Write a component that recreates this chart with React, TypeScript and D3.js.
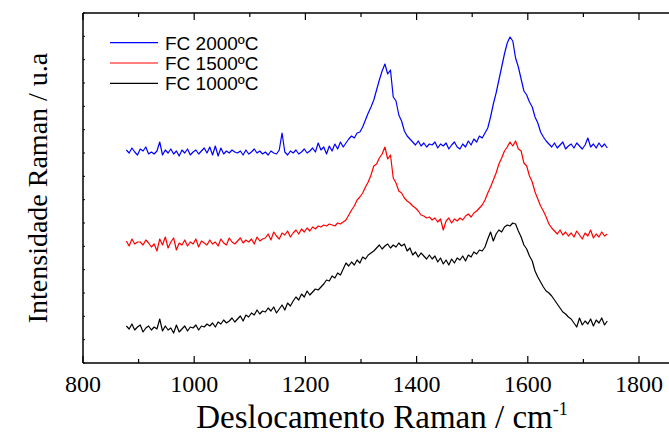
import * as d3 from 'd3';

// Raman shift grid (cm-1) of the measured spectra
const shiftStart = 878;
const shiftStep = 5;

// intensities (a.u., already offset for stacking)
const fc2000 = [
  213, 210, 215, 211, 208, 214, 212, 216, 209, 211,
  209, 212, 221, 208, 213, 210, 214, 209, 212, 207,
  213, 210, 214, 208, 211, 213, 209, 212, 215, 210,
  216, 208, 217, 207, 215, 209, 212, 210, 213, 211,
  210, 212, 208, 213, 209, 211, 214, 210, 212, 209,
  211, 208, 212, 210, 209, 213, 230, 211, 208, 212,
  210, 213, 209, 211, 214, 210, 212, 215, 211, 220,
  213, 216, 209, 217, 212, 219, 214, 221, 216, 220,
  224, 227, 225, 230, 231, 236, 243, 250, 256, 263,
  273, 283, 292, 299, 289, 293, 266, 262, 248, 242,
  232, 227, 224, 221, 218, 222, 217, 220, 216, 219,
  218, 221, 215, 219, 217, 220, 214, 218, 221, 216,
  214, 219, 216, 222, 218, 224, 221, 227, 225, 230,
  235, 246, 259, 270, 283, 296, 309, 320, 326, 322,
  305, 296, 284, 272, 268, 261, 256, 246, 240, 231,
  226, 222, 219, 216, 220, 215, 218, 221, 214, 217,
  219, 215, 220, 217, 214, 218, 225, 216, 219, 215,
  220, 216, 219, 215,
];

const fc1500 = [
  122, 117, 124, 119, 121, 121, 118, 123, 120, 116,
  119, 112, 124, 118, 126, 115, 121, 125, 113, 120,
  118, 123, 117, 121, 119, 124, 116, 122, 120, 118,
  123, 119, 121, 117, 124, 120, 118, 125, 121, 119,
  122, 125, 120, 123, 121, 124, 119, 126, 122, 124,
  125, 129, 123, 131, 127, 124, 130, 128, 132, 126,
  130, 133, 129, 134, 131, 135, 132, 136, 134, 137,
  136, 138, 137, 139, 138, 137, 140, 139, 141, 143,
  148, 153, 157, 163, 166, 170, 176, 181, 188, 197,
  199, 205, 209, 216, 204, 208, 185, 180, 172, 170,
  165, 162, 160, 157, 155, 152, 148, 147, 145, 146,
  143, 145, 141, 144, 133, 142, 145, 140, 144, 142,
  145, 143, 147, 149, 146, 150, 152, 155, 158, 163,
  170, 176, 183, 190, 199, 205, 212, 216, 221, 217,
  222, 214, 212, 200, 197, 187, 181, 171, 164, 157,
  152, 146, 139, 135, 132, 129, 133, 128, 131, 127,
  130, 126, 132, 128, 124, 130, 127, 133, 125, 129,
  126, 131, 127, 129,
];

const fc1000 = [
  37, 34, 39, 33, 36, 38, 31, 35, 37, 33,
  36, 34, 44, 32, 37, 33, 35, 30, 38, 31,
  34, 37, 32, 36, 35, 38, 33, 37, 36, 39,
  37, 40, 36, 41, 39, 43, 40, 42, 45, 41,
  44, 47, 42, 48, 46, 50, 48, 53, 49, 52,
  51, 55, 52, 56, 50, 54, 58, 53, 60, 57,
  62, 66, 63, 69, 66, 72, 68, 71, 74, 73,
  76, 79, 83, 82, 87, 85, 90, 88, 94, 100,
  97, 101, 98, 103, 100, 106, 104, 108, 110, 112,
  115, 118, 114, 117, 119, 115, 118, 116, 120, 117,
  119, 112, 115, 108, 111, 106, 110, 107, 104, 108,
  104, 107, 101, 105, 99, 103, 98, 104, 100, 105,
  103, 107, 102, 108, 106, 111, 109, 113, 112, 116,
  124, 131, 122, 129, 133, 131, 136, 138, 137, 140,
  139, 132, 126, 118, 114, 107, 102, 92, 86, 81,
  76, 72, 70, 67, 63, 59, 55, 51, 49, 46,
  44, 40, 36, 45, 38, 42, 39, 44, 37, 43,
  40, 45, 38, 42,
];

const seriesNames = ['FC 2000ºC', 'FC 1500ºC', 'FC 1000ºC'];
const seriesColors = ['#0000ff', '#ff0000', '#000000'];
const seriesValues = [fc2000, fc1500, fc1000];

const xMajorTicks = [800, 1000, 1200, 1400, 1600, 1800];
const xMinorTicks = [900, 1100, 1300, 1500, 1700, 1900];
const yTickCount = 15;

export default function App() {
  const width = 669;
  const height = 436;
  const left = 83;
  const top = 13;
  const bottom = 363;
  const right = left + 5.5 * 111.2;

  const x = d3.scaleLinear().domain([800, 1900]).range([left, right]);
  const y = d3.scaleLinear().domain([0, 350]).range([bottom, top]);
  const yTicks = d3.range(0, yTickCount + 1).map(i => (350 / yTickCount) * i);

  const shifts = fc2000.map((_, i) => shiftStart + i * shiftStep);
  const line = d3.line<number>()
    .x((_, i) => x(shifts[i]))
    .y(d => y(d));

  const serif = '"Liberation Serif", "Times New Roman", serif';
  const sans = '"Liberation Sans", Arial, sans-serif';

  return (
    <svg
      width={width}
      height={height}
      style={{ position: 'absolute', left: 0, top: 0, background: '#fff' }}
    >
      {/* series */}
      {seriesValues.map((vals, k) => (
        <path
          key={k}
          d={line(vals) || ''}
          fill="none"
          stroke={seriesColors[k]}
          strokeWidth={1.2}
          strokeLinejoin="round"
        />
      ))}

      {/* frame */}
      <line x1={left} x2={right} y1={top} y2={top} stroke="#000" strokeWidth={1.5} />
      <line x1={left} x2={right} y1={bottom} y2={bottom} stroke="#000" strokeWidth={1.5} />
      <line x1={left} x2={left} y1={top} y2={bottom} stroke="#000" strokeWidth={1.5} />

      {/* x ticks, inward on bottom and top */}
      {xMajorTicks.map(t => (
        <g key={`M${t}`}>
          <line x1={x(t)} x2={x(t)} y1={bottom} y2={bottom - 7} stroke="#000" strokeWidth={1.2} />
          <line x1={x(t)} x2={x(t)} y1={top} y2={top + 7} stroke="#000" strokeWidth={1.2} />
          <text
            x={x(t)}
            y={392}
            textAnchor="middle"
            fontFamily={serif}
            fontSize={24}
            fill="#000"
          >
            {t}
          </text>
        </g>
      ))}
      {xMinorTicks.map(t => (
        <g key={`m${t}`}>
          <line x1={x(t)} x2={x(t)} y1={bottom} y2={bottom - 4} stroke="#000" strokeWidth={1.2} />
          <line x1={x(t)} x2={x(t)} y1={top} y2={top + 4} stroke="#000" strokeWidth={1.2} />
        </g>
      ))}

      {/* y ticks (no labels) */}
      {yTicks.map(t => (
        <line key={`y${t}`} x1={left} x2={left + 2} y1={y(t)} y2={y(t)} stroke="#000" strokeWidth={1} />
      ))}

      {/* axis titles */}
      <text x={382} y={428} textAnchor="middle" fontFamily={serif} fontSize={33} fill="#000">
        Deslocamento Raman / cm<tspan dy={-13} fontSize={18}>-1</tspan>
      </text>
      <text
        transform={`translate(47,188) rotate(-90)`}
        textAnchor="middle"
        fontFamily={serif}
        fontSize={28}
        fill="#000"
      >
        Intensidade Raman / u.a
      </text>

      {/* legend */}
      {seriesNames.map((name, k) => {
        const cy = 42.7 + k * 20.3;
        return (
          <g key={name}>
            <line x1={110} x2={158} y1={cy} y2={cy} stroke={seriesColors[k]} strokeWidth={1.2} />
            <text x={165} y={cy + 7} fontFamily={sans} fontSize={19} fill="#000">
              {name}
            </text>
          </g>
        );
      })}
    </svg>
  );
}
